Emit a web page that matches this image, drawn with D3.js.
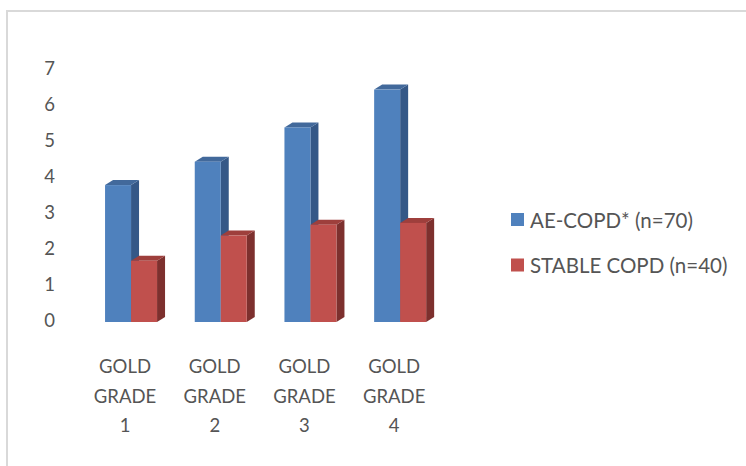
<!DOCTYPE html>
<html><head><meta charset="utf-8">
<script src="https://cdn.jsdelivr.net/npm/d3@7"></script>
<style>html,body{margin:0;padding:0;background:#fff;overflow:hidden}</style>
</head><body>
<svg id="c" width="746" height="466"></svg>
<script>
const categories = ["GOLD GRADE 1","GOLD GRADE 2","GOLD GRADE 3","GOLD GRADE 4"];
const seriesNames = ["AE-COPD* (n=70)","STABLE COPD (n=40)"];
const aeCopd = [3.8, 4.45, 5.4, 6.45];
const stableCopd = [1.7, 2.4, 2.7, 2.75];
const yTicks = [0,1,2,3,4,5,6,7];

const svg = d3.select("#c");
const font = "Lato, 'Open Sans', sans-serif";
const txt = "#555555";

// outer frame
svg.append("rect").attr("x",7).attr("y",11).attr("width",800).attr("height",600)
  .attr("fill","#fff").attr("stroke","#d9d9d9").attr("stroke-width",2);

const y = d3.scaleLinear().domain([0,7]).range([322, 322-7*36.03]);
const x = d3.scaleBand().domain(categories).range([86.2, 445]).paddingInner(0).paddingOuter(0);
const inner = d3.scaleBand().domain(seriesNames).range([0,52]);
const colors = [
  {front:"#4f81bd", top:"#42699b", side:"#355887"},
  {front:"#c0504d", top:"#9e3f3c", side:"#7d302e"}
];
const dx = 8, dy = 5;
const series = [aeCopd, stableCopd];

// y axis labels
svg.append("g").selectAll("text").data(yTicks).join("text")
  .attr("x",55).attr("y",d=>y(d)-2).attr("text-anchor","end")
  .attr("dominant-baseline","central").attr("font-family",font)
  .attr("font-size",18.5).attr("fill",txt).text(d=>d);

const bars = svg.append("g");
categories.forEach((c,i)=>{
  const cx = x(c) + x.bandwidth()/2 - 26;
  series.forEach((vals,s)=>{
    const x0 = cx + inner(seriesNames[s]);
    const w = inner.bandwidth();
    const yt = y(vals[i]), yb = y(0);
    const col = colors[s];
    const g = bars.append("g");
    g.append("path").attr("d",`M${x0+w},${yt}L${x0+w+dx},${yt-dy}L${x0+w+dx},${yb-dy}L${x0+w},${yb}Z`).attr("fill",col.side);
    g.append("path").attr("d",`M${x0},${yt}L${x0+dx},${yt-dy}L${x0+w+dx},${yt-dy}L${x0+w},${yt}Z`).attr("fill",col.top);
    g.append("rect").attr("x",x0).attr("y",yt).attr("width",w).attr("height",yb-yt).attr("fill",col.front);
  });
});

// category labels
const cl = svg.append("g");
categories.forEach(c=>{
  const parts = c.split(" ");
  const cx = x(c) + x.bandwidth()/2 - 6;
  parts.forEach((p,j)=>{
    cl.append("text").attr("x",cx).attr("y",366+j*29.5).attr("text-anchor","middle")
      .attr("dominant-baseline","central").attr("font-family",font).attr("font-size",18.5)
      .attr("fill",txt).text(p);
  });
});

// legend
const lg = svg.append("g");
seriesNames.forEach((n,i)=>{
  const cy = 219.5 + i*45.5;
  lg.append("rect").attr("x",511).attr("y",cy-6.5).attr("width",13).attr("height",13).attr("fill",colors[i].front);
  lg.append("text").attr("x",530).attr("y",cy).attr("dominant-baseline","central")
    .attr("font-family",font).attr("font-size",20.5).attr("fill",txt).text(n);
});
</script>
</body></html>
